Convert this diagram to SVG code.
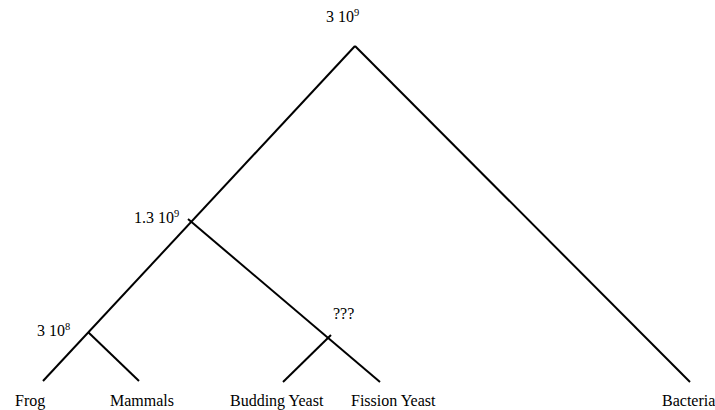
<svg xmlns="http://www.w3.org/2000/svg" width="715" height="410" viewBox="0 0 715 410">
  <style>
    .edge { stroke: #000; stroke-width: 2; fill: none; stroke-linecap: butt; }
    text { font-family: "Liberation Serif", "Times New Roman", serif; font-size: 16px; fill: #000; }
    .sup { font-size: 10.5px; }
  </style>
  <rect width="715" height="410" fill="#fff"/>

  <!-- tree branches -->
  <g id="connectors">
    <line class="edge" x1="355" y1="46" x2="43" y2="381"/>
    <line class="edge" x1="355" y1="46" x2="690" y2="382"/>
    <line class="edge" x1="188" y1="219" x2="380" y2="382"/>
    <line class="edge" x1="88" y1="332" x2="139" y2="381"/>
    <line class="edge" x1="283" y1="382" x2="331" y2="335"/>
  </g>

  <!-- internal nodes -->
  <g id="node-root">
    <text x="326" y="22">3 10<tspan class="sup" dy="-6">9</tspan></text>
  </g>
  <g id="node-eukaryotes">
    <text x="134" y="223">1.3 10<tspan class="sup" dy="-6">9</tspan></text>
  </g>
  <g id="node-vertebrates">
    <text x="37" y="336">3 10<tspan class="sup" dy="-6">8</tspan></text>
  </g>
  <g id="node-yeasts">
    <text x="333" y="319">???</text>
  </g>

  <!-- leaves -->
  <g id="leaf-frog"><text x="15" y="406">Frog</text></g>
  <g id="leaf-mammals"><text x="110" y="406">Mammals</text></g>
  <g id="leaf-budding-yeast"><text x="230" y="406">Budding Yeast</text></g>
  <g id="leaf-fission-yeast"><text x="351" y="406">Fission Yeast</text></g>
  <g id="leaf-bacteria"><text x="662" y="406">Bacteria</text></g>
</svg>
